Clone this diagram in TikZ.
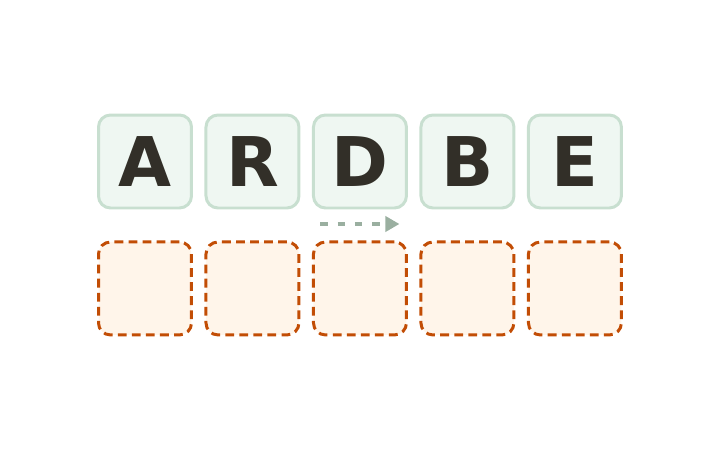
\documentclass[tikz,border=0pt]{standalone}
\usepackage{fontspec}
\setmainfont{DejaVu Sans}
\usepackage{tikz}
\usetikzlibrary{arrows.meta,positioning}

\definecolor{tilefill}{HTML}{EFF7F2}
\definecolor{tileline}{HTML}{C8DFD0}
\definecolor{slotfill}{HTML}{FFF5EA}
\definecolor{slotline}{HTML}{C24D05}
\definecolor{letter}{HTML}{322F28}
\definecolor{shiftarrow}{HTML}{9AAFA0}

\begin{document}
\begin{tikzpicture}[x=0.02cm,y=-0.02cm,
  tile/.style={draw=tileline,fill=tilefill,line width=1.7pt,rounded corners=0.24cm,
    minimum size=1.86cm,inner sep=0pt,outer sep=0pt,text=letter,
    font=\fontsize{39}{39}\selectfont\bfseries},
  slot/.style={draw=slotline,fill=slotfill,line width=1.7pt,rounded corners=0.24cm,
    dash pattern=on 5pt off 3pt,minimum size=1.86cm,inner sep=0pt,outer sep=0pt},
  node distance=0.29cm]
  \useasboundingbox (0,0) rectangle (720,450);

  % tiles
  \node[tile] (t1) at (145,161.5) {A};
  \node[tile,right=of t1] (t2) {R};
  \node[tile,right=of t2] (t3) {D};
  \node[tile,right=of t3] (t4) {B};
  \node[tile,right=of t4] (t5) {E};

  % empty slots
  \foreach \i in {1,...,5}
    \node[slot,below=0.68cm of t\i] (s\i) {};

  % shift
  \coordinate (from) at ([xshift=0.14cm,yshift=-0.32cm]t3.south west);
  \coordinate (to) at ([xshift=-0.14cm,yshift=-0.32cm]t3.south east);
  \draw[shiftarrow,line width=2.1pt,dash pattern=on 4.3pt off 5.5pt,
    -{Triangle[length=0.28cm,width=0.3cm]}] (from) -- (to);
\end{tikzpicture}
\end{document}
